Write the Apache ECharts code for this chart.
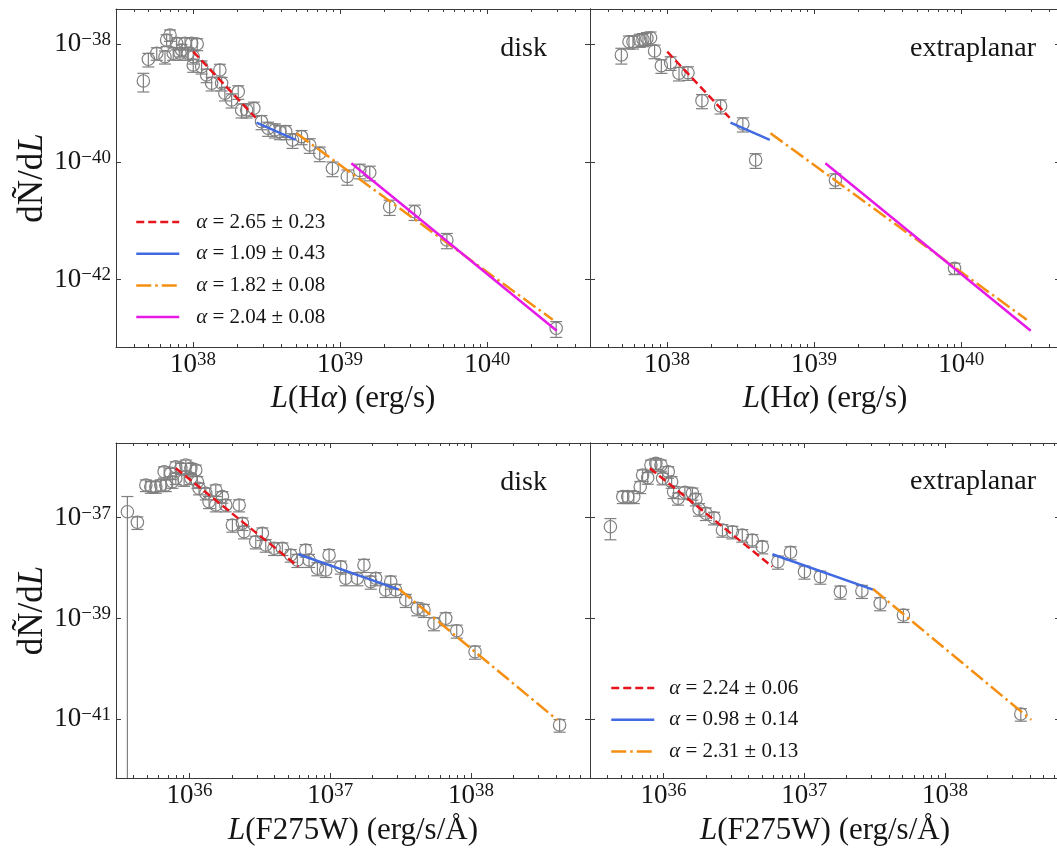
<!DOCTYPE html>
<html>
<head>
<meta charset="utf-8">
<script src="https://cdn.jsdelivr.net/npm/echarts@6/dist/echarts.min.js"></script>
<style>
  html, body { margin: 0; padding: 0; background: #ffffff; }
  #chart { width: 1057px; height: 850px; }
</style>
</head>
<body>
<div id="chart"></div>
<script>
// ---------------------------------------------------------------------------
// Differential luminosity functions (log10 values), H-alpha and F275W,
// for the disk and the extraplanar samples.
// Each bin: log10 L, log10 dN/dL and the fractional 1-sigma uncertainty.
// ---------------------------------------------------------------------------
const haDiskLogL = [37.663, 37.697, 37.754, 37.810, 37.866, 37.912, 37.844, 37.821, 37.889, 37.946,
  37.991, 38.029, 37.923, 37.968, 38.002, 38.002, 38.059, 38.093, 38.127, 38.183,
  38.195, 38.217, 38.263, 38.308, 38.331, 38.365, 38.414, 38.466, 38.511, 38.557,
  38.591, 38.631, 38.677, 38.738, 38.794, 38.862, 38.948, 39.049, 39.134, 39.202,
  39.337, 39.507, 39.726, 40.469];
const haDiskLogN = [-38.624, -38.255, -38.153, -38.211, -38.153, -38.153, -37.842, -37.927, -37.983, -37.983,
  -37.983, -37.995, -38.097, -38.153, -38.211, -38.352, -38.381, -38.522, -38.663, -38.437,
  -38.663, -38.833, -38.947, -38.806, -39.117, -39.117, -39.088, -39.316, -39.429, -39.457,
  -39.486, -39.486, -39.628, -39.571, -39.713, -39.854, -40.109, -40.248, -40.146, -40.180,
  -40.762, -40.847, -41.328, -42.830];
const haDiskErr = [0.35, 0.26, 0.24, 0.25, 0.24, 0.24, 0.22, 0.23, 0.23, 0.23,
  0.23, 0.23, 0.24, 0.24, 0.25, 0.25, 0.25, 0.26, 0.26, 0.25,
  0.26, 0.26, 0.27, 0.26, 0.27, 0.27, 0.27, 0.27, 0.27, 0.27,
  0.27, 0.27, 0.28, 0.27, 0.28, 0.28, 0.28, 0.29, 0.28, 0.28,
  0.29, 0.29, 0.29, 0.30];

const haExtraLogL = [37.690, 37.742, 37.769, 37.815, 37.837, 37.864, 37.889, 37.916, 37.962, 38.025,
  38.082, 38.143, 38.238, 38.365, 38.516, 38.603, 39.145, 39.955];
const haExtraLogN = [-38.182, -37.956, -37.956, -37.927, -37.915, -37.898, -37.888, -38.114, -38.364, -38.313,
  -38.493, -38.483, -38.959, -39.049, -39.355, -39.968, -40.310, -41.810];
const haExtraErr = [0.30, 0.25, 0.25, 0.25, 0.25, 0.25, 0.25, 0.26, 0.26, 0.26,
  0.26, 0.26, 0.27, 0.27, 0.27, 0.28, 0.28, 0.22];

const uvDiskLogL = [35.558, 35.629, 35.689, 35.724, 35.760, 35.795, 35.831, 35.878, 35.819, 35.866,
  35.902, 35.938, 35.973, 36.009, 36.044, 35.902, 35.961, 36.009, 36.055, 36.067,
  36.115, 36.186, 36.138, 36.233, 36.186, 36.257, 36.352, 36.304, 36.375, 36.387,
  36.470, 36.517, 36.541, 36.600, 36.659, 36.719, 36.766, 36.825, 36.849, 36.908,
  36.991, 36.967, 37.074, 37.109, 37.192, 37.239, 37.287, 37.322, 37.393, 37.429,
  37.464, 37.536, 37.618, 37.665, 37.736, 37.820, 37.898, 38.028, 38.629];
const uvDiskLogN = [-36.881, -37.091, -36.351, -36.385, -36.385, -36.351, -36.351, -36.286, -36.087, -36.119,
  -35.988, -36.020, -35.954, -36.020, -36.054, -36.218, -36.252, -36.218, -36.286, -36.417,
  -36.516, -36.450, -36.683, -36.583, -36.748, -36.748, -36.748, -37.145, -37.111, -37.278,
  -37.476, -37.310, -37.542, -37.607, -37.607, -37.740, -37.839, -37.641, -37.839, -38.004,
  -37.740, -38.038, -37.972, -38.202, -38.202, -37.938, -38.270, -38.202, -38.435, -38.270,
  -38.435, -38.633, -38.798, -38.831, -39.095, -38.996, -39.242, -39.659, -41.113];
const uvDiskErr = [1.00, 0.28, 0.26, 0.26, 0.26, 0.26, 0.26, 0.26, 0.25, 0.25,
  0.25, 0.25, 0.25, 0.25, 0.25, 0.25, 0.25, 0.25, 0.26, 0.26,
  0.26, 0.26, 0.27, 0.26, 0.27, 0.27, 0.27, 0.28, 0.28, 0.28,
  0.28, 0.28, 0.28, 0.28, 0.28, 0.28, 0.29, 0.28, 0.29, 0.29,
  0.28, 0.29, 0.29, 0.29, 0.29, 0.29, 0.29, 0.29, 0.29, 0.29,
  0.29, 0.29, 0.29, 0.29, 0.29, 0.29, 0.29, 0.29, 0.28];

const uvExtraLogL = [35.622, 35.710, 35.745, 35.788, 35.834, 35.851, 35.887, 35.910, 35.945, 35.981,
  35.993, 36.033, 36.057, 36.071, 36.103, 36.151, 36.205, 36.229, 36.252, 36.300,
  36.358, 36.418, 36.489, 36.559, 36.630, 36.701, 36.812, 36.902, 37.001, 37.114,
  37.256, 37.409, 37.539, 37.704, 38.538];
const uvExtraLogN = [-37.179, -36.583, -36.583, -36.583, -36.385, -36.153, -36.206, -35.954, -35.921, -35.954,
  -36.218, -36.087, -36.286, -36.484, -36.615, -36.496, -36.516, -36.629, -36.827, -36.913,
  -37.000, -37.244, -37.278, -37.343, -37.442, -37.575, -37.873, -37.687, -38.071, -38.171,
  -38.468, -38.454, -38.698, -38.931, -40.895];
const uvExtraErr = [0.45, 0.27, 0.27, 0.27, 0.27, 0.26, 0.26, 0.25, 0.25, 0.25,
  0.26, 0.26, 0.26, 0.27, 0.27, 0.27, 0.27, 0.27, 0.28, 0.28,
  0.28, 0.28, 0.28, 0.28, 0.28, 0.28, 0.29, 0.29, 0.29, 0.29,
  0.29, 0.29, 0.29, 0.29, 0.28];

// Broken power-law fits, dN/dL ∝ L^-alpha, one segment per entry
const haFitAlpha = [2.65, 1.09, 1.82, 2.04];
const haFitAlphaErr = [0.23, 0.43, 0.08, 0.08];
const haFitLogLFrom = [38.002, 38.432, 38.704, 39.077];
const haFitLogLTo = [38.426, 38.699, 40.446, 40.473];
const haFitLogNFrom = [-38.126, -39.333, -39.514, -40.024];

const uvFitAlpha = [2.24, 0.98, 2.31];
const uvFitAlphaErr = [0.06, 0.14, 0.13];
const uvFitLogLFrom = [35.902, 36.773, 37.488];
const uvFitLogLTo = [36.773, 37.488, 38.612];
const uvFitLogNFrom = [-36.020, -37.726, -38.415];

// Axis ranges (log10) and labelled decades
const haLogLRange = [37.477, 40.699];
const haLogNRange = [-43.148, -37.400];
const uvLogLRange = [35.477, 38.845];
const uvLogNRange = [-42.165, -35.518];
const haXTickExp = [38, 39, 40];
const uvXTickExp = [36, 37, 38];
const haYTickExp = [-38, -40, -42];
const uvYTickExp = [-37, -39, -41];
const panelTags = ['disk', 'extraplanar', 'disk', 'extraplanar'];

// ---------------------------------------------------------------------------
// Styles
// ---------------------------------------------------------------------------
const SERIF = '"Liberation Serif", "Times New Roman", serif';
const INK = '#151515';
const FRAME = '#3a3a3a';
const MARK = '#808080';
const fitStyles = [
  { color: '#e8141b', type: [8, 4] },
  { color: '#4169e1', type: 'solid' },
  { color: '#f58f12', type: [15, 4, 2.5, 4] },
  { color: '#e619e6', type: 'solid' }
];
const uvFitStyles = [fitStyles[0], fitStyles[1], fitStyles[2]];

const pow10 = (v) => Math.pow(10, v);
const fitName = (a, e) => 'α = ' + a.toFixed(2) + ' ± ' + e.toFixed(2);

function expText(e) {
  return e < 0 ? '\u2212' + (-e) : String(e);
}
// x axis is logarithmic (raw values); y axis carries log10 values
const powLabelX = (v) => '{b|10}{s|' + expText(Math.round(Math.log10(v))) + '}';
const powLabelY = (v) => '{b|10}{s|' + expText(Math.round(v)) + '}';
const powRich = {
  b: { fontFamily: SERIF, fontSize: 27, lineHeight: 27, color: INK, padding: [4, 0, 4, 0] },
  s: { fontFamily: SERIF, fontSize: 19, lineHeight: 19, color: INK, verticalAlign: 'top' }
};

function minorValues(range) {
  const out = [];
  for (let n = Math.floor(range[0]); n <= Math.ceil(range[1]); n++) {
    for (let k = 2; k <= 9; k++) {
      const lv = n + Math.log10(k);
      if (lv > range[0] && lv < range[1]) out.push(k * Math.pow(10, n));
    }
  }
  return out;
}

const titleRich = {
  i: { fontFamily: SERIF, fontSize: 31, fontStyle: 'italic', color: INK, lineHeight: 34 },
  r: { fontFamily: SERIF, fontSize: 31, color: INK, lineHeight: 34 }
};

// panel geometry
const grids = [
  { left: 116, top: 9, width: 474, height: 338 },
  { left: 590, top: 9, width: 470, height: 338 },
  { left: 116, top: 443, width: 474, height: 335 },
  { left: 590, top: 443, width: 470, height: 335 }
];

const panelDefs = [
  { xr: haLogLRange, yr: haLogNRange, xt: haXTickExp, yt: haYTickExp, yLab: true,
    xName: '{i|L}{r|(H}{i|α}{r|) (erg/s)}', xGap: 32,
    pts: [haDiskLogL, haDiskLogN, haDiskErr], fit: 'ha' },
  { xr: haLogLRange, yr: haLogNRange, xt: haXTickExp, yt: haYTickExp, yLab: false,
    xName: '{i|L}{r|(H}{i|α}{r|) (erg/s)}', xGap: 32,
    pts: [haExtraLogL, haExtraLogN, haExtraErr], fit: 'ha' },
  { xr: uvLogLRange, yr: uvLogNRange, xt: uvXTickExp, yt: uvYTickExp, yLab: true,
    xName: '{i|L}{r|(F275W) (erg/s/Å)}', xGap: 36,
    pts: [uvDiskLogL, uvDiskLogN, uvDiskErr], fit: 'uv' },
  { xr: uvLogLRange, yr: uvLogNRange, xt: uvXTickExp, yt: uvYTickExp, yLab: false,
    xName: '{i|L}{r|(F275W) (erg/s/Å)}', xGap: 36,
    pts: [uvExtraLogL, uvExtraLogN, uvExtraErr], fit: 'uv' }
];

const xAxes = [], yAxes = [], series = [];
const tickLine = { color: FRAME, width: 1 };

panelDefs.forEach((p, i) => {
  const g = grids[i];
  // the right-hand panels keep the same pixels-per-decade as their left neighbour
  const xSpan = (p.xr[1] - p.xr[0]) * g.width / grids[i - (i % 2)].width;
  const xr = [p.xr[0], p.xr[0] + xSpan];
  const xMaj = p.xt.map(pow10);
  const xMin2 = minorValues(xr);

  const baseX = { type: 'log', logBase: 10, gridIndex: i, min: pow10(xr[0]), max: pow10(xr[1]),
    splitLine: { show: false }, minorTick: { show: false }, silent: true };
  const baseY = { type: 'value', gridIndex: i, min: p.yr[0], max: p.yr[1], scale: true,
    splitLine: { show: false }, minorTick: { show: false }, silent: true };

  xAxes.push(Object.assign({}, baseX, {
    position: 'bottom',
    axisLine: { show: true, onZero: false, lineStyle: { color: FRAME, width: 1 } },
    axisTick: { show: true, inside: true, length: 5, customValues: xMaj, lineStyle: tickLine },
    axisLabel: { show: true, customValues: xMaj, formatter: powLabelX, rich: powRich, margin: 4 },
    name: p.xName, nameLocation: 'middle', nameGap: p.xGap,
    nameTextStyle: { rich: titleRich }
  }));
  xAxes.push(Object.assign({}, baseX, {
    position: 'bottom',
    axisLine: { show: false, onZero: false },
    axisTick: { show: true, inside: true, length: 3, customValues: xMin2, lineStyle: tickLine },
    axisLabel: { show: false }
  }));
  xAxes.push(Object.assign({}, baseX, {
    position: 'top',
    axisLine: { show: true, onZero: false, lineStyle: { color: FRAME, width: 1 } },
    axisTick: { show: true, inside: true, length: 5, customValues: xMaj, lineStyle: tickLine },
    axisLabel: { show: false }
  }));
  xAxes.push(Object.assign({}, baseX, {
    position: 'top',
    axisLine: { show: false, onZero: false },
    axisTick: { show: true, inside: true, length: 3, customValues: xMin2, lineStyle: tickLine },
    axisLabel: { show: false }
  }));

  yAxes.push(Object.assign({}, baseY, {
    position: 'left',
    axisLine: { show: true, onZero: false, lineStyle: { color: FRAME, width: 1 } },
    axisTick: { show: true, inside: true, length: 5, customValues: p.yt, lineStyle: tickLine },
    axisLabel: { show: p.yLab, customValues: p.yt, formatter: powLabelY, rich: powRich, margin: 5 },
    name: p.yLab ? '{r|dÑ/d}{i|L}' : '', nameLocation: 'middle', nameRotate: 90, nameGap: 63,
    nameTextStyle: { rich: {
      i: { fontFamily: SERIF, fontSize: 35, fontStyle: 'italic', color: INK, lineHeight: 38 },
      r: { fontFamily: SERIF, fontSize: 35, color: INK, lineHeight: 38 } } }
  }));
  yAxes.push(Object.assign({}, baseY, {
    position: 'right',
    axisLine: { show: true, onZero: false, lineStyle: { color: FRAME, width: 1 } },
    axisTick: { show: true, inside: true, length: 5, customValues: p.yt, lineStyle: tickLine },
    axisLabel: { show: false }
  }));

  // binned measurements with error bars
  const [lx, ly, le] = p.pts;
  series.push({
    type: 'custom',
    xAxisIndex: i * 4, yAxisIndex: i * 2,
    coordinateSystem: 'cartesian2d',
    clip: true, silent: true, z: 2,
    encode: { x: 0, y: 1 },
    data: lx.map((v, k) => [pow10(v), ly[k], le[k]]),
    renderItem: function (params, api) {
      const x = api.value(0), y = api.value(1), f = api.value(2);
      const c = api.coord([x, y]);
      const cs = params.coordSys;
      const top = api.coord([x, y + Math.log10(1 + f)])[1];
      const bot = f < 1 ? api.coord([x, y + Math.log10(1 - f)])[1] : cs.y + cs.height;
      const st = () => ({ stroke: MARK, lineWidth: 1.2, fill: 'none' });
      const kids = [
        { type: 'line', shape: { x1: c[0], y1: top, x2: c[0], y2: bot }, style: st() },
        { type: 'line', shape: { x1: c[0] - 6, y1: top, x2: c[0] + 6, y2: top }, style: st() }
      ];
      if (f < 1) kids.push({ type: 'line', shape: { x1: c[0] - 6, y1: bot, x2: c[0] + 6, y2: bot }, style: st() });
      kids.push({ type: 'circle', shape: { cx: c[0], cy: c[1], r: 6.2 }, style: st() });
      return { type: 'group', children: kids };
    }
  });

  // fitted power-law segments
  const isHa = p.fit === 'ha';
  const A = isHa ? haFitAlpha : uvFitAlpha;
  const AE = isHa ? haFitAlphaErr : uvFitAlphaErr;
  const L0 = isHa ? haFitLogLFrom : uvFitLogLFrom;
  const L1 = isHa ? haFitLogLTo : uvFitLogLTo;
  const N0 = isHa ? haFitLogNFrom : uvFitLogNFrom;
  const styles = isHa ? fitStyles : uvFitStyles;
  A.forEach((a, k) => {
    const n1 = N0[k] - a * (L1[k] - L0[k]);
    series.push({
      type: 'line', name: fitName(a, AE[k]),
      xAxisIndex: i * 4, yAxisIndex: i * 2,
      symbol: 'none', silent: true, z: 3,
      lineStyle: { color: styles[k].color, width: 2.5, type: styles[k].type, cap: 'butt' },
      itemStyle: { color: styles[k].color },
      data: [[pow10(L0[k]), N0[k]], [pow10(L1[k]), n1]]
    });
  });
});

const legendText = {
  fontFamily: SERIF, fontSize: 21, color: INK, lineHeight: 22,
  rich: { a: { fontFamily: SERIF, fontSize: 21, fontStyle: 'italic', color: INK, lineHeight: 22 } }
};
const legendFmt = (name) => name.replace('α', '{a|α}');

const tagStyle = (t, x, y) => ({
  type: 'text', x: x, y: y, silent: true,
  style: { text: t, fill: INK, font: '28px ' + SERIF, textAlign: 'right', textVerticalAlign: 'middle' }
});

const option = {
  animation: false,
  backgroundColor: '#ffffff',
  grid: grids.map(g => Object.assign({ show: false, containLabel: false, outerBoundsMode: 'none' }, g)),
  xAxis: xAxes,
  yAxis: yAxes,
  legend: [
    {
      data: haFitAlpha.map((a, k) => fitName(a, haFitAlphaErr[k])),
      orient: 'vertical', left: 135, top: 211, padding: 0,
      itemWidth: 43, itemHeight: 14, itemGap: 9.7,
      lineStyle: { width: 2.5 }, itemStyle: { opacity: 0 },
      textStyle: Object.assign({ padding: [0, 0, 0, 12] }, legendText),
      formatter: legendFmt, selectedMode: false
    },
    {
      data: uvFitAlpha.map((a, k) => fitName(a, uvFitAlphaErr[k])),
      orient: 'vertical', left: 610, top: 677, padding: 0,
      itemWidth: 43, itemHeight: 14, itemGap: 9.7,
      lineStyle: { width: 2.5 }, itemStyle: { opacity: 0 },
      textStyle: Object.assign({ padding: [0, 0, 0, 10] }, legendText),
      formatter: legendFmt, selectedMode: false
    }
  ],
  graphic: [
    tagStyle(panelTags[0], 547, 49),
    tagStyle(panelTags[1], 1036, 48.5),
    tagStyle(panelTags[2], 547, 482.5),
    tagStyle(panelTags[3], 1036, 481.5)
  ],
  series: series
};

const chart = echarts.init(document.getElementById('chart'), null, { renderer: 'canvas' });
chart.setOption(option);
</script>
</body>
</html>
